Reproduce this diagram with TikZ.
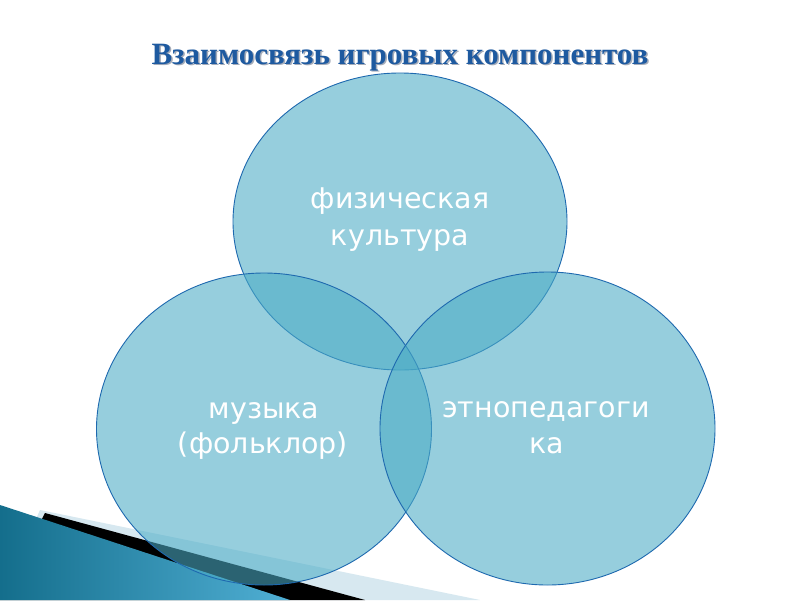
\documentclass[tikz,border=0pt]{standalone}
\usepackage{fontspec}
\setmainfont{DejaVu Sans}
\newfontfamily\titlefont{Liberation Serif}
\usetikzlibrary{shapes.geometric}
\definecolor{circfill}{RGB}{75,172,198}
\definecolor{circline}{RGB}{30,105,175}
\definecolor{titleblue}{RGB}{30,90,160}
\definecolor{titleshadow}{RGB}{165,172,185}
\definecolor{palewedge}{RGB}{215,232,240}
\definecolor{tealdark}{RGB}{20,110,140}
\definecolor{teallight}{RGB}{80,175,212}
\newcommand{\shadowtext}[1]{\rlap{\kern1.5pt\raisebox{-1.5pt}{\textcolor{titleshadow}{#1}}}\textcolor{titleblue}{#1}}
\tikzset{
  venn/.style={ellipse, draw=circline, line width=0.9pt, fill=circfill, fill opacity=0.58, draw opacity=1, inner sep=0pt},
  lbl/.style={text=white, font=\fontsize{28.5}{36}\selectfont, inner sep=0pt, anchor=base},
  titletext/.style={font=\titlefont\bfseries\fontsize{31}{36}\selectfont, inner sep=0pt, anchor=base}
}
\begin{document}
\begin{tikzpicture}[x=1pt,y=-1pt]
\useasboundingbox (0,0) rectangle (800,600);
\fill[white] (0,0) rectangle (800,600);
% title
\node[titletext] (title) at (400,64) {\shadowtext{Взаимосвязь игровых компонентов}};
% decorative wedges
\fill[palewedge] (40,510) -- (480,600) -- (0,600) -- cycle;
\fill[black] (45,513) -- (365,600) -- (0,600) -- cycle;
\shade[left color=tealdark, right color=teallight] (0,505) -- (290,600) -- (0,600) -- cycle;
% circles
\node[venn, minimum width=334pt, minimum height=297pt] (phys) at (400,221.5) {};
\node[venn, minimum width=335pt, minimum height=312pt] (music) at (264,429) {};
\node[venn, minimum width=335pt, minimum height=313pt] (ethno) at (547.5,428.5) {};
% labels
\node[lbl] (physA) at (400,208) {физическая};
\node[lbl] (physB) at (400,245) {культура};
\node[lbl] (musA) at (264,418) {музыка};
\node[lbl] (musB) at (263,453) {(фольклор)};
\node[lbl] (ethA) at (546,417) {этнопедагоги};
\node[lbl] (ethB) at (547,453) {ка};
\end{tikzpicture}
\end{document}
